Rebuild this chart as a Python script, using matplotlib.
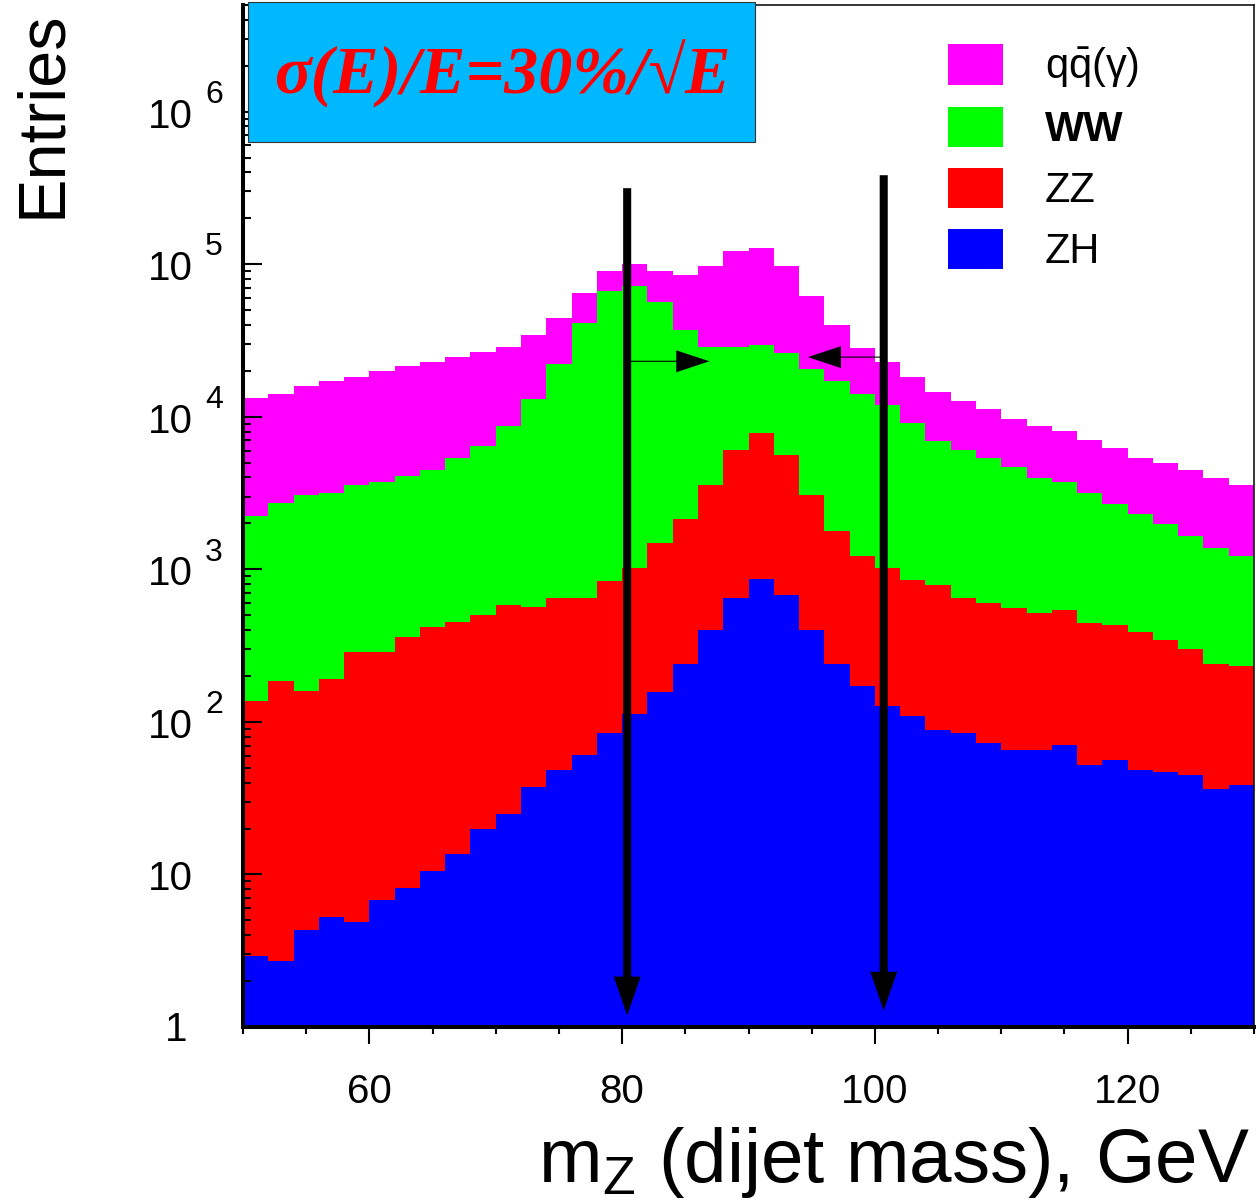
import numpy as np
import matplotlib
matplotlib.use('Agg')
import matplotlib.pyplot as plt
from matplotlib.patches import Patch, Rectangle
from matplotlib.ticker import LogLocator, NullFormatter, MultipleLocator

plt.rcParams['font.family'] = ['Liberation Sans', 'DejaVu Sans']

# dijet mass binning (GeV)
mass_lo, mass_hi, bin_width = 50, 130, 2
edges = np.arange(mass_lo, mass_hi + bin_width, bin_width)

# stacked histogram levels (each layer includes the ones below it)
stack_qq = [13200, 14200, 15900, 17100, 18200, 19900, 21400, 22800, 24600, 26400,
            28700, 34600, 44500, 64900, 90400, 101000, 90400, 84700, 97500, 121700,
            126800, 97500, 62000, 39800, 28400, 22900, 18200, 14600, 12600, 11300,
            9730, 8710, 8070, 7010, 6240, 5370, 5010, 4460, 3990, 3590]
stack_ww = [2230, 2740, 3060, 3180, 3560, 3710, 4090, 4460, 5370, 6470,
            8710, 13000, 22100, 41200, 66500, 72100, 56100, 37300, 28700, 28700,
            29700, 26000, 20700, 17100, 14200, 11900, 9110, 6940, 6030, 5400,
            4650, 3990, 3710, 3180, 2670, 2300, 1970, 1650, 1370, 1220]
stack_zz = [137, 184, 159, 192, 287, 287, 358, 417, 449, 503,
            585, 566, 648, 648, 838, 1020, 1480, 2130, 3590, 6030,
            7830, 5600, 3090, 1780, 1220, 1020, 847, 785, 650, 603,
            557, 520, 538, 447, 434, 388, 346, 299, 238, 231]
stack_zh = [2.9, 2.7, 4.3, 5.3, 4.9, 6.8, 8.2, 10.6, 13.7, 20.0,
            24.9, 37.3, 48.6, 61.0, 84.5, 113, 158, 241, 403, 650,
            869, 676, 403, 238, 171, 127, 109, 88, 84.7, 72.6,
            65.8, 65.8, 70.2, 52.4, 55.9, 48.6, 46.9, 45.1, 36.1, 38.4]

labels = [r'$\mathregular{q\bar{q}(\gamma)}$', 'WW', 'ZZ', 'ZH']
colors = ['#ff00ff', '#00ff00', '#ff0000', '#0000ff']

# mass window cuts and where the arrows sit
cut_lo, cut_hi = 80.4, 100.7
arrow_top = [3.15e5, 3.83e5]
arrow_tip = [1.19, 1.28]
side_y = [2.31e4, 2.46e4]
side_tip = [86.9, 94.7]

W, H = 1256, 1204
fig = plt.figure(figsize=(W / 100, H / 100), dpi=100)
ax = fig.add_axes([243 / W, 1 - 1027 / H, (1254 - 243) / W, (1027 - 5) / H])

# draw the stack back to front
for lev, c in zip([stack_qq, stack_ww, stack_zz, stack_zh], colors):
    ax.stairs(lev, edges, baseline=0.1, fill=True, color=c, lw=0)

ax.set_yscale('log')
ax.set_xlim(mass_lo, mass_hi)
ax.set_ylim(1, 5e6)

ax.xaxis.set_major_locator(MultipleLocator(20))
ax.xaxis.set_minor_locator(MultipleLocator(5))
ax.yaxis.set_major_locator(LogLocator(base=10, numticks=20))
ax.yaxis.set_minor_locator(LogLocator(base=10, subs=np.arange(2, 10), numticks=20))
ax.yaxis.set_major_formatter(NullFormatter())
ax.yaxis.set_minor_formatter(NullFormatter())
ax.tick_params(axis='x', which='major', direction='out', length=12, width=1.5, pad=21, labelsize=29)
ax.tick_params(axis='x', which='minor', direction='out', length=5, width=1.5)
ax.tick_params(axis='y', which='major', direction='in', length=13.5, width=1.5)
ax.tick_params(axis='y', which='minor', direction='in', length=6, width=1.5)

ax.spines['left'].set_linewidth(2.9)
ax.spines['bottom'].set_linewidth(2.9)
ax.spines['right'].set_linewidth(1.1)
ax.spines['top'].set_linewidth(1.1)

# ROOT style decade labels
ytrans = ax.get_yaxis_transform()
for k in range(7):
    if k == 0:
        ax.annotate('1', xy=(-0.0554, 1), xycoords=ytrans, xytext=(0, -10),
                    textcoords='offset points', ha='right', va='baseline', fontsize=29)
        continue
    ax.annotate('10', xy=(-0.0495, 10 ** k), xycoords=ytrans, xytext=(0, -11.5),
                textcoords='offset points', ha='right', va='baseline', fontsize=29)
    if k > 1:
        ax.annotate(str(k), xy=(-0.0376, 10 ** k), xycoords=ytrans, xytext=(0, 6.3),
                    textcoords='offset points', ha='left', va='baseline', fontsize=23)

# cut arrows
for x0, top, tip, sy, stip in zip([cut_lo, cut_hi], arrow_top, arrow_tip, side_y, side_tip):
    ax.annotate('', xy=(x0, tip), xytext=(x0, top),
                arrowprops=dict(arrowstyle='simple,head_length=28,head_width=19.4,tail_width=5.8',
                                mutation_scale=1, fc='black', ec='none', lw=0,
                                shrinkA=0, shrinkB=0))
    ax.annotate('', xy=(stip, sy), xytext=(x0, sy),
                arrowprops=dict(arrowstyle='simple,head_length=23.8,head_width=15.8,tail_width=0.8',
                                mutation_scale=1, fc='black', ec='none', lw=0,
                                shrinkA=0, shrinkB=0))

handles = [Patch(facecolor=c, edgecolor='none') for c in colors]
leg = ax.legend(handles, labels, loc='upper left', bbox_to_anchor=(948 / W, 1 - 44 / H),
                bbox_transform=fig.transFigure, frameon=False, fontsize=30,
                handlelength=1.32, handleheight=1.12, labelspacing=0.42,
                handletextpad=1.0, borderpad=0, borderaxespad=0)
leg.get_texts()[1].set_fontweight('bold')

# resolution box
fig.patches.append(Rectangle((248 / W, 1 - 142 / H), 507 / W, 140 / H,
                             transform=fig.transFigure, facecolor='#00b8ff',
                             edgecolor='#333333', lw=0.8, zorder=5))
fig.text(502 / W, 1 - 74 / H, r'σ(E)/E=30%/√E', ha='center', va='center',
         color='red', fontsize=49, fontweight='bold', fontstyle='italic',
         family=['Liberation Serif', 'DejaVu Serif'], zorder=6)

fig.text(1250 / W, 1 - 1182 / H, r'm$_{\mathregular{Z}}$ (dijet mass), GeV',
         ha='right', va='baseline', fontsize=55)
fig.text(43 / W, 1 - 10 / H, 'Entries', rotation=90, ha='center', va='top', fontsize=48)

fig.savefig('out.png', dpi=100)
